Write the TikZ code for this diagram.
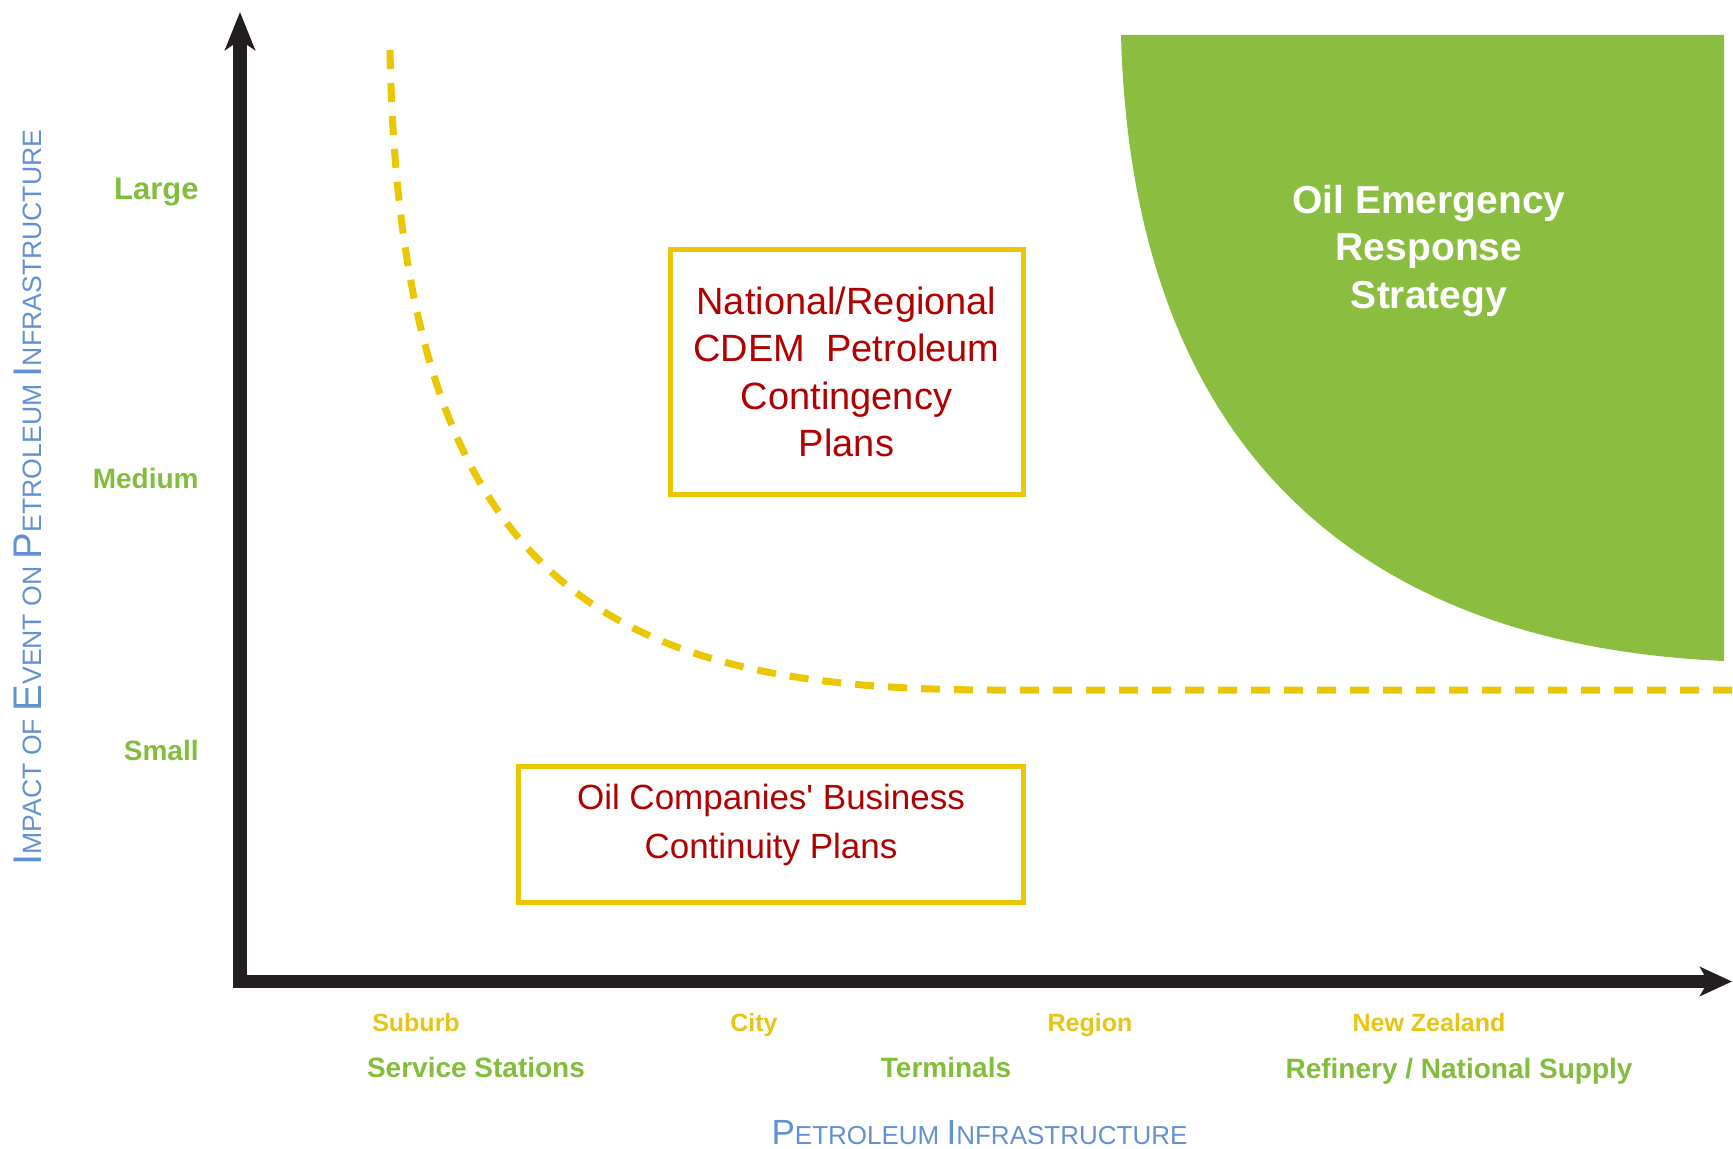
\documentclass[tikz,border=0pt]{standalone}
\usepackage{fontspec}
\setmainfont{Liberation Sans}
\usetikzlibrary{arrows.meta}
\definecolor{axisblack}{RGB}{35,31,32}
\definecolor{leafgreen}{RGB}{139,189,65}
\definecolor{labgreen}{RGB}{130,189,60}
\definecolor{labgold}{RGB}{232,196,20}
\definecolor{plangold}{RGB}{234,199,0}
\definecolor{plantext}{RGB}{176,0,0}
\definecolor{titleblue}{RGB}{98,145,210}
\newcommand{\tcap}[2][17.5]{{\fontsize{#1}{#1}\selectfont #2}}

\begin{document}
\begin{tikzpicture}[x=0.5pt, y=-0.5pt,
	level/.style={font=\bfseries\fontsize{14}{14}\selectfont, text=labgreen, anchor=base east, inner sep=0pt},
	place/.style={font=\bfseries\fontsize{12.5}{12.5}\selectfont, text=labgold, anchor=base, inner sep=0pt},
	asset/.style={font=\bfseries\fontsize{14}{14}\selectfont, text=labgreen, anchor=base, inner sep=0pt},
	plan/.style={draw=plangold, line width=2.5pt, text=plantext, align=center}]
\useasboundingbox (0,0) rectangle (1733,1149);
\fill[leafgreen] (1121,35) .. controls (1132,450) and (1360,645) .. (1724,661) -- (1724,35) -- cycle;
\draw[plangold, line width=3.5pt, dash pattern=on 9.5pt off 7pt] (390,50) .. controls (400,590) and (610,690) .. (995,690) -- (1733,690);
\coordinate (O) at (240,981.5);
\coordinate (ytip) at (240,12);
\coordinate (xtip) at (1732,981.5);
\draw[axisblack, line width=6.75pt, {Stealth[length=19pt,width=15pt,inset=5pt]}-{Stealth[length=16pt,width=14.5pt,inset=4pt]}] (ytip) -- (O) -- (xtip);

\node[level, font=\bfseries\fontsize{15.5}{15.5}\selectfont] (large) at (199,200) {Large};
\node[level] (medium) at (199,488) {Medium};
\node[level] (small) at (199,760) {Small};

\node[place] (suburb) at (416,1031) {Suburb};
\node[place] (city) at (754,1031) {City};
\node[place] (region) at (1090,1031) {Region};
\node[place] (nz) at (1429,1031) {New Zealand};
\node[asset] (stations) at (476,1077) {Service Stations};
\node[asset] (terminals) at (946,1077) {Terminals};
\node[asset] (refinery) at (1459,1078) {Refinery / National Supply};

\node[text=titleblue, font=\fontsize{13}{13}\selectfont] (xtitle) at (979.5,1133) {\tcap{P}ETROLEUM \tcap{I}NFRASTRUCTURE};
\node[text=titleblue, font=\fontsize{13.3}{13.3}\selectfont, rotate=90] (ytitle) at (27.5,497.5) {\tcap[20]{I}MPACT OF \tcap[20]{E}VENT ON \tcap[20]{P}ETROLEUM \tcap[20]{I}NFRASTRUCTURE};

\node[plan, minimum width=176.5pt, minimum height=122.5pt, font=\fontsize{19}{23.75}\selectfont] (cdem) at (846.5,372) {National/Regional\\CDEM~~Petroleum\\Contingency\\Plans};
\node[plan, minimum width=252.5pt, minimum height=68pt] (bcp) at (771,834) {};
\node[text=plantext, align=center, font=\fontsize{17.5}{24.3}\selectfont] (bcptext) at ([yshift=4.5pt]bcp.center) {Oil Companies\textquotesingle{} Business\\Continuity Plans};
\node[text=white, font=\bfseries\fontsize{19.5}{23.75}\selectfont, align=center] (oers) at (1429,251) {Oil Emergency\\Response\\Strategy};
\end{tikzpicture}
\end{document}
